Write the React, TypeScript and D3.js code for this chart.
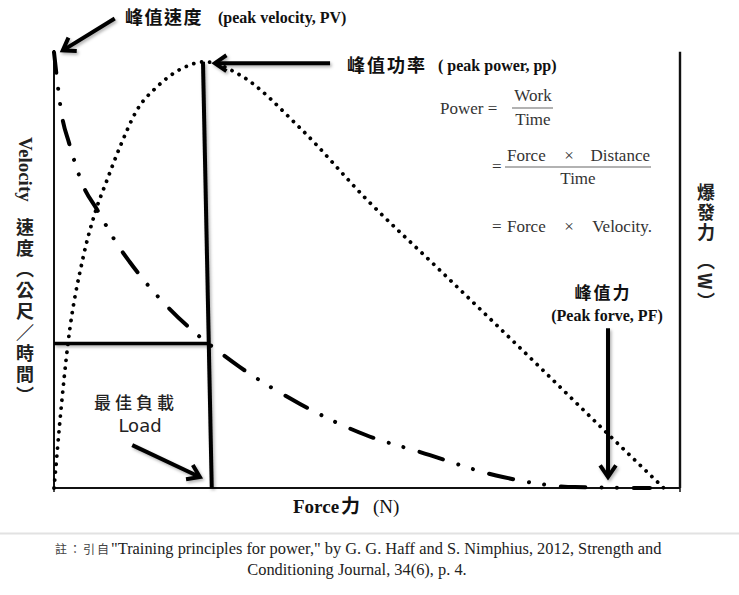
import React from "react";
import * as d3 from "d3";

// ---- data (force in % of max, velocity / power in % of max) ----
const velocityForce = [0, 1.3, 2.4, 4.6, 6.9, 10.4, 12.1, 22.4, 26.0, 29.7, 39.3, 49.8, 58.5, 71.7, 83.2, 95.2];
const velocityValues = [99.5, 84.7, 78.8, 69.2, 63.5, 55.0, 51.6, 35.6, 31.5, 27.6, 19.2, 12.1, 8.2, 2.5, 0.2, 0];

const powerForce = [0, 0.16, 0.96, 2.24, 4.63, 6.55, 8.47, 10.54, 13.26, 16.45, 20.6, 24.1, 29.7, 39.3, 50.0, 61.3, 77.6, 88.3, 97.4];
const powerValues = [0, 2.5, 15.5, 33.1, 52.5, 62.8, 70.3, 77.9, 86.3, 91.6, 95.9, 97.3, 94.3, 82.2, 65.8, 50.2, 27.6, 12.6, 0];

// optimal load: vertical line (top, bottom) and horizontal velocity line
const optimalLoadForce = [23.8, 25.2];
const optimalLoadTop = [97.3, 0];
const optimalVelocity = 33;
const optimalVelocityForce = [0, 24.6];

// annotation arrows [force1, value1, force2, value2]
const arrowPV = [9.7, 107.2, 1.4, 99.9];
const arrowPP = [44.1, 97.0, 25.7, 97.0];
const arrowPF = [88.5, 36.5, 88.5, 2.5];
const arrowLoad = [12.5, 9.8, 23.3, 2.5];

const serif = "'Liberation Serif', 'Times New Roman', serif";
const cjk = "'Noto Sans CJK TC', 'Noto Sans CJK SC', sans-serif";

function Arrow({ x1, y1, x2, y2, head = 14, w = 4 }: any) {
  const a = Math.atan2(y2 - y1, x2 - x1);
  const sp = 0.6;
  const hx1 = x2 - head * Math.cos(a - sp);
  const hy1 = y2 - head * Math.sin(a - sp);
  const hx2 = x2 - head * Math.cos(a + sp);
  const hy2 = y2 - head * Math.sin(a + sp);
  const ex = x2 - Math.cos(a) * 3;
  const ey = y2 - Math.sin(a) * 3;
  return (
    <g filter="url(#shadow)">
      <line x1={x1} y1={y1} x2={ex} y2={ey} stroke="#000" strokeWidth={w} />
      <polyline
        points={`${hx1},${hy1} ${x2},${y2} ${hx2},${hy2}`}
        fill="none"
        stroke="#000"
        strokeWidth={w}
        strokeLinejoin="miter"
      />
    </g>
  );
}

export default function App() {
  const W = 739;
  const H = 595;
  const x = d3.scaleLinear().domain([0, 100]).range([54, 680]);
  const y = d3.scaleLinear().domain([0, 100]).range([488, 50]);
  const line = d3
    .line<[number, number]>()
    .x((d) => x(d[0]))
    .y((d) => y(d[1]))
    .curve(d3.curveMonotoneX);

  const vPath = line(velocityForce.map((f, i) => [f, velocityValues[i]]) as [number, number][]) || "";
  const pPath = line(powerForce.map((f, i) => [f, powerValues[i]]) as [number, number][]) || "";

  const ar = (a: number[]) => ({ x1: x(a[0]), y1: y(a[1]), x2: x(a[2]), y2: y(a[3]) });

  return (
    <div style={{ position: "absolute", left: 0, top: 0 }}>
      <svg width={W} height={H} viewBox={`0 0 ${W} ${H}`} style={{ display: "block", background: "#fff" }}>
        <defs>
          <filter id="shadow" filterUnits="userSpaceOnUse" x="0" y="0" width={W} height={H}>
            <feDropShadow dx="1.5" dy="2" stdDeviation="1.4" floodColor="#000" floodOpacity="0.3" />
          </filter>
        </defs>

        {/* frame */}
        <line x1={x(0)} y1={y(100)} x2={x(0)} y2={y(0)} stroke="#111" strokeWidth={2} />
        <line x1={x(0)} y1={y(0)} x2={x(100)} y2={y(0)} stroke="#111" strokeWidth={2} />
        <line x1={x(100)} y1={y(99.6)} x2={x(100)} y2={y(0)} stroke="#111" strokeWidth={2.4} />
        <line x1={x(0)} y1={y(0)} x2={x(0)} y2={y(0) + 4} stroke="#111" strokeWidth={1.5} />
        <line x1={x(100)} y1={y(0)} x2={x(100)} y2={y(0) + 4} stroke="#111" strokeWidth={1.5} />

        {/* power curve (dotted) */}
        <path d={pPath} fill="none" stroke="#000" strokeWidth={3.8} strokeLinecap="round" strokeDasharray="0.01 8" />

        {/* velocity curve (dash-dot-dot) */}
        <path
          d={vPath}
          fill="none"
          stroke="#000"
          strokeWidth={4}
          strokeLinecap="round"
          strokeDasharray="24.6 16.2 0.01 15.3 0.01 16.8"
          strokeDashoffset={4}
        />

        {/* optimal load lines */}
        <g filter="url(#shadow)">
          <line
            x1={x(optimalLoadForce[0])}
            y1={y(optimalLoadTop[0])}
            x2={x(optimalLoadForce[1])}
            y2={y(optimalLoadTop[1])}
            stroke="#000"
            strokeWidth={4}
          />
          <line
            x1={x(optimalVelocityForce[0])}
            y1={y(optimalVelocity)}
            x2={x(optimalVelocityForce[1])}
            y2={y(optimalVelocity)}
            stroke="#000"
            strokeWidth={3.5}
          />
        </g>

        {/* arrows */}
        <Arrow {...ar(arrowPV)} />
        <Arrow {...ar(arrowPP)} />
        <Arrow {...ar(arrowPF)} />
        <Arrow {...ar(arrowLoad)} />

        {/* peak velocity label */}
        <text x={125} y={24} fontFamily={cjk} fontWeight={700} fontSize={18} letterSpacing={1.5} fill="#111">
          峰值速度
        </text>
        <text x={218} y={22.5} fontFamily={serif} fontWeight={700} fontSize={16} fill="#111">
          (peak velocity, PV)
        </text>

        {/* peak power label */}
        <text x={347} y={72} fontFamily={cjk} fontWeight={700} fontSize={18} letterSpacing={2} fill="#111">
          峰值功率
        </text>
        <text x={438} y={70.5} fontFamily={serif} fontWeight={700} fontSize={16} fill="#111">
          ( peak power, pp)
        </text>

        {/* formula */}
        <g fontFamily={serif} fontSize={17} fill="#333">
          <text x={440} y={114}>Power =</text>
          <text x={533} y={101} textAnchor="middle">Work</text>
          <line x1={512} y1={108} x2={553} y2={108} stroke="#666" strokeWidth={1.2} />
          <text x={533} y={125} textAnchor="middle">Time</text>

          <text x={492} y={172}>=</text>
          <text x={507} y={161}>Force</text>
          <text x={569} y={161} textAnchor="middle">×</text>
          <text x={650} y={161} textAnchor="end">Distance</text>
          <line x1={505} y1={167} x2={651} y2={167} stroke="#666" strokeWidth={1.2} />
          <text x={578} y={184} textAnchor="middle">Time</text>

          <text x={492} y={232}>=</text>
          <text x={507} y={232}>Force</text>
          <text x={569} y={232} textAnchor="middle">×</text>
          <text x={652} y={232} textAnchor="end">Velocity.</text>
        </g>

        {/* peak force label */}
        <text x={603} y={299} textAnchor="middle" fontFamily={cjk} fontWeight={700} fontSize={17} letterSpacing={2} fill="#111">
          峰值力
        </text>
        <text x={607} y={320.5} textAnchor="middle" fontFamily={serif} fontWeight={700} fontSize={16} fill="#111">
          (Peak forve, PF)
        </text>

        {/* optimal load label */}
        <text x={136} y={409} textAnchor="middle" fontFamily={cjk} fontWeight={500} fontSize={17} letterSpacing={4} fill="#222">
          最佳負載
        </text>
        <text x={140} y={432} textAnchor="middle" fontFamily="'DejaVu Sans', sans-serif" fontSize={18} fill="#222">
          Load
        </text>

        {/* left axis label (vertical) */}
        <text
          x={25}
          y={137}
          fontFamily={serif}
          fontWeight={700}
          fontSize={19}
          fill="#222"
          style={{ writingMode: "vertical-rl" } as any}
        >
          Velocity
        </text>
        <text
          x={25}
          y={218}
          fontFamily={cjk}
          fontWeight={700}
          fontSize={18}
          letterSpacing={3}
          fill="#222"
          style={{ writingMode: "vertical-rl" } as any}
        >
          速度（公尺／時間）
        </text>

        {/* right axis label (vertical) */}
        <text
          x={706}
          y={183}
          fontFamily={cjk}
          fontWeight={700}
          fontSize={18}
          letterSpacing={2}
          fill="#222"
          style={{ writingMode: "vertical-rl" } as any}
        >
          爆發力
        </text>
        <text
          x={706}
          y={252}
          fontFamily={cjk}
          fontWeight={700}
          fontSize={18}
          letterSpacing={3}
          fill="#222"
          style={{ writingMode: "vertical-rl" } as any}
        >
          （W）
        </text>

        {/* x axis title */}
        <text x={293} y={513} fontFamily={serif} fontWeight={700} fontSize={19} fill="#111">
          Force
        </text>
        <text x={341} y={513} fontFamily={cjk} fontWeight={700} fontSize={19} fill="#111">
          力
        </text>
        <text x={373} y={513} fontFamily={serif} fontSize={19} fill="#111">
          (N)
        </text>

        {/* separator */}
        <line x1={0} y1={533.5} x2={W} y2={533.5} stroke="#e2e2e2" strokeWidth={2} />

        {/* caption */}
        <text x={55} y={554} fontFamily={serif} fontSize={16.4} fill="#222">
          <tspan fontFamily={cjk} fontSize={12} letterSpacing={2} fill="#444">註：引自</tspan>
          <tspan>"Training principles for power," by G. G. Haff and S. Nimphius, 2012, Strength and</tspan>
        </text>
        <text x={357} y={575} textAnchor="middle" fontFamily={serif} fontSize={16.4} fill="#222">
          Conditioning Journal, 34(6), p. 4.
        </text>
      </svg>
    </div>
  );
}
